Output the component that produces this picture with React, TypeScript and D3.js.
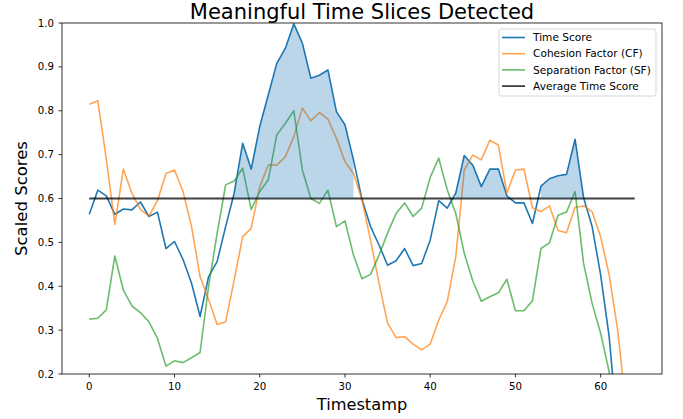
import React from "react";
import * as d3 from "d3";

const W = 683;
const H = 419;
const margin = { top: 23, right: 21, bottom: 45, left: 62 };

const timeScore = [
  0.564, 0.619, 0.606, 0.564, 0.576, 0.574, 0.592, 0.559, 0.569, 0.486,
  0.502, 0.461, 0.407, 0.331, 0.422, 0.456, 0.536, 0.612, 0.726, 0.667,
  0.764, 0.836, 0.908, 0.942, 0.998, 0.954, 0.874, 0.881, 0.893, 0.798,
  0.768, 0.688, 0.598, 0.536, 0.494, 0.448, 0.458, 0.486, 0.447, 0.452,
  0.505, 0.595, 0.578, 0.612, 0.698, 0.676, 0.627, 0.667, 0.667, 0.606,
  0.59, 0.59, 0.543, 0.628, 0.645, 0.652, 0.655, 0.735, 0.602, 0.536,
  0.426, 0.285, 0.07, 0.0,
];
const cohesion = [
  0.815, 0.823, 0.69, 0.541, 0.667, 0.612, 0.575, 0.56, 0.595, 0.657,
  0.665, 0.616, 0.536, 0.422, 0.37, 0.313, 0.319, 0.414, 0.513, 0.532,
  0.627, 0.676, 0.676, 0.695, 0.741, 0.806, 0.777, 0.796, 0.781, 0.737,
  0.684, 0.657, 0.597, 0.505, 0.407, 0.316, 0.283, 0.285, 0.268, 0.255,
  0.268, 0.323, 0.365, 0.467, 0.665, 0.699, 0.688, 0.733, 0.722, 0.612,
  0.665, 0.667, 0.579, 0.57, 0.583, 0.527, 0.522, 0.58, 0.583, 0.57,
  0.513, 0.426, 0.3, 0.12,
];
const separation = [
  0.325, 0.327, 0.346, 0.469, 0.391, 0.355, 0.34, 0.319, 0.281, 0.218,
  0.23, 0.226, 0.237, 0.249, 0.4, 0.52, 0.631, 0.64, 0.669, 0.575,
  0.616, 0.642, 0.745, 0.771, 0.8, 0.665, 0.6, 0.589, 0.619, 0.536,
  0.549, 0.471, 0.417, 0.427, 0.471, 0.521, 0.566, 0.59, 0.559, 0.578,
  0.648, 0.692, 0.62, 0.566, 0.475, 0.412, 0.366, 0.376, 0.385, 0.416,
  0.344, 0.344, 0.367, 0.486, 0.499, 0.562, 0.569, 0.616, 0.452, 0.361,
  0.293, 0.205, 0.09, 0.0,
];
const avgScore = 0.6;
const avgSpan = [0, 64];
// detected slices (index ranges, inclusive)
const slices = [
  [17, 31],
  [43, 49],
  [53, 58],
];
const xTicks = [0, 10, 20, 30, 40, 50, 60];
const yTicks = [0.2, 0.3, 0.4, 0.5, 0.6, 0.7, 0.8, 0.9, 1.0];

const series = [
  { name: "Time Score", values: timeScore, color: "#1f77b4", alpha: 1 },
  { name: "Cohesion Factor (CF)", values: cohesion, color: "#ff7f0e", alpha: 0.7 },
  { name: "Separation Factor (SF)", values: separation, color: "#2ca02c", alpha: 0.7 },
];

const font = "DejaVu Sans, sans-serif";

const App = () => {
  const iw = W - margin.left - margin.right;
  const ih = H - margin.top - margin.bottom;

  const x = d3.scaleLinear().domain([-3.2, 67.2]).range([0, iw]);
  const y = d3.scaleLinear().domain([0.2, 1.0]).range([ih, 0]);

  const line = d3
    .line<number>()
    .x((_, i) => x(i))
    .y((d) => y(d));

  const area = d3
    .area<[number, number]>()
    .x((d) => x(d[0]))
    .y0(() => y(avgScore))
    .y1((d) => y(d[1]));

  const legendRows = [
    ...series.map((s) => ({ name: s.name, color: s.color, alpha: s.alpha })),
    { name: "Average Time Score", color: "#000", alpha: 0.75 },
  ];

  return (
    <svg
      width={W}
      height={H}
      style={{ position: "absolute", left: 0, top: 0, background: "#fff" }}
      fontFamily={font}
    >
      <defs>
        <clipPath id="plotClip">
          <rect x={0} y={0} width={iw} height={ih} />
        </clipPath>
      </defs>
      <text
        x={margin.left + iw / 2}
        y={18.5}
        textAnchor="middle"
        fontSize={21}
        fill="#000"
      >
        Meaningful Time Slices Detected
      </text>
      <g transform={`translate(${margin.left},${margin.top})`}>
        <g clipPath="url(#plotClip)">
          {series.map((s) => (
            <path
              key={s.name}
              d={line(s.values) || ""}
              fill="none"
              stroke={s.color}
              strokeOpacity={s.alpha}
              strokeWidth={1.6}
              strokeLinejoin="round"
            />
          ))}
          <line
            x1={x(avgSpan[0])}
            x2={x(avgSpan[1])}
            y1={y(avgScore)}
            y2={y(avgScore)}
            stroke="#000"
            strokeOpacity={0.75}
            strokeWidth={1.8}
          />
          {slices.map(([a, b]) => {
            const pts: [number, number][] = d3
              .range(a, b + 1)
              .map((i) => [i, timeScore[i]]);
            return (
              <path
                key={a}
                d={area(pts) || ""}
                fill="#1f77b4"
                fillOpacity={0.3}
              />
            );
          })}
        </g>

        {/* frame */}
        <rect
          x={0}
          y={0}
          width={iw}
          height={ih}
          fill="none"
          stroke="#000"
          strokeWidth={0.8}
        />

        {/* y axis */}
        {yTicks.map((t) => (
          <g key={t} transform={`translate(0,${y(t)})`}>
            <line x1={-3.5} x2={0} stroke="#000" strokeWidth={0.8} />
            <text
              x={-8}
              dy="0.35em"
              textAnchor="end"
              fontSize={10.2}
              fill="#000"
            >
              {t.toFixed(1)}
            </text>
          </g>
        ))}

        {/* x axis */}
        {xTicks.map((t) => (
          <g key={t} transform={`translate(${x(t)},${ih})`}>
            <line y1={0} y2={3.5} stroke="#000" strokeWidth={0.8} />
            <text y={16} textAnchor="middle" fontSize={10.2} fill="#000">
              {t}
            </text>
          </g>
        ))}

        <text
          x={iw / 2}
          y={ih + 35.5}
          textAnchor="middle"
          fontSize={16.2}
          fill="#000"
        >
          Timestamp
        </text>
        <text
          transform={`translate(${-35},${y(0.6)}) rotate(-90)`}
          textAnchor="middle"
          fontSize={16.5}
          fill="#000"
        >
          Scaled Scores
        </text>

        {/* legend */}
        <g transform={`translate(${iw - 163},6)`}>
          <rect
            width={157}
            height={67}
            rx={2.5}
            fill="#fff"
            fillOpacity={0.8}
            stroke="#ccc"
            strokeWidth={0.8}
          />
          {legendRows.map((r, i) => (
            <g key={r.name} transform={`translate(0,${8.5 + i * 16.2})`}>
              <line
                x1={3}
                x2={26}
                stroke={r.color}
                strokeOpacity={r.alpha}
                strokeWidth={r.name.startsWith("Average") ? 1.8 : 1.6}
              />
              <text x={34} dy="0.35em" fontSize={10.6} fill="#000">
                {r.name}
              </text>
            </g>
          ))}
        </g>
      </g>
    </svg>
  );
};

export default App;
